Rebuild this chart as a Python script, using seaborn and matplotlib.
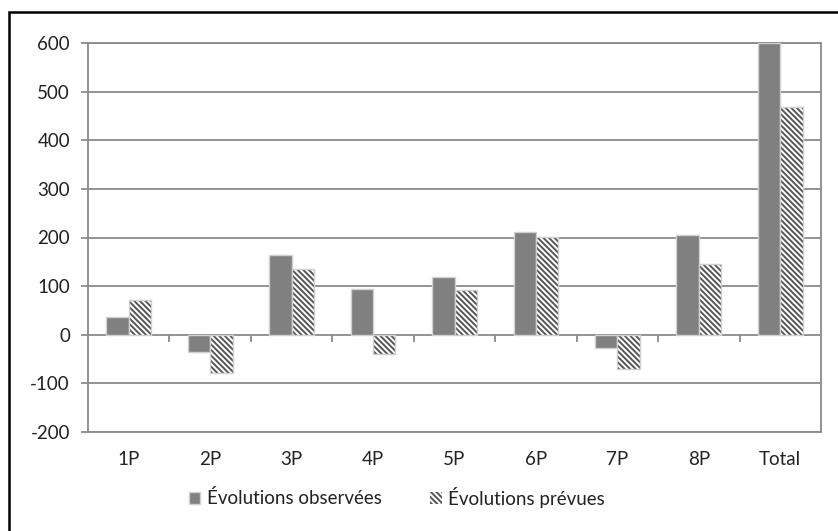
import pandas as pd
import seaborn as sns
import matplotlib.pyplot as plt
from matplotlib.patches import Rectangle

sns.set_theme(style="white")
plt.rcParams["font.family"] = ["Lato", "DejaVu Sans"]
plt.rcParams["hatch.linewidth"] = 1.4
plt.rcParams["axes.unicode_minus"] = False

## --- Data
categories = ["1P", "2P", "3P", "4P", "5P", "6P", "7P", "8P", "Total"]
observed = [37, -35, 164, 95, 119, 212, -28, 205, 600]
forecast = [72, -78, 136, -40, 92, 202, -71, 145, 468]
series_names = ["Évolutions observées", "Évolutions prévues"]
y_ticks = [-200, -100, 0, 100, 200, 300, 400, 500, 600]
## ---

df = pd.DataFrame({
    "cat": categories * 2,
    "value": observed + forecast,
    "series": [series_names[0]] * len(categories) + [series_names[1]] * len(categories),
})

GRID = "#8a8a8a"
DARK = "#808080"
TEXT = "#222222"

fig = plt.figure(figsize=(8.38, 5.31), dpi=100)
ax = fig.add_axes([88 / 838, 1 - 432 / 531, (821 - 88) / 838, (432 - 43) / 531])

sns.barplot(data=df, x="cat", y="value", hue="series", order=categories,
            hue_order=series_names, palette=[DARK, "white"], width=0.55, gap=0,
            edgecolor="#d0d0d0", linewidth=1, legend=False, ax=ax, zorder=3)

# hatched series: dark hatch, light outline on top
for p in ax.containers[1]:
    p.set_edgecolor("#555555")
    p.set_linewidth(0)
    p.set_hatch("\\" * 6)
    ax.add_patch(Rectangle(p.get_xy(), p.get_width(), p.get_height(), fill=False,
                           ec="#cfcfcf", lw=1, zorder=4))

ax.set_ylim(-200, 600)
ax.set_xlim(-0.5, len(categories) - 0.5)
ax.set_yticks(y_ticks)
ax.set_xlabel("")
ax.set_ylabel("")
ax.yaxis.grid(True, color=GRID, lw=1.3)
ax.set_axisbelow(True)
for s in ax.spines.values():
    s.set_color(GRID)
    s.set_linewidth(1.3)

ax.tick_params(axis="y", length=5, width=1.3, color=GRID, pad=8, labelsize=13.5,
               labelcolor=TEXT, left=True)
ax.tick_params(axis="x", length=0, pad=14, labelsize=13.5, labelcolor=TEXT)

# tick marks between categories on the zero line
sec = ax.secondary_xaxis(0.25)
sec.set_xticks([i + 0.5 for i in range(len(categories) - 1)])
sec.set_xticklabels([])
sec.tick_params(axis="x", direction="out", length=5, width=1.3, color=GRID)
sec.spines["bottom"].set_visible(False)

handles = [ax.containers[0][0], ax.containers[1][0]]
fig.legend(handles, series_names, loc="center", bbox_to_anchor=(397 / 838, 1 - 497 / 531),
           ncol=2, frameon=False, fontsize=13.5, handlelength=0.6, handleheight=0.6,
           handletextpad=0.35, columnspacing=2.6, labelcolor=TEXT)

# outer frame of the figure box
fig.patches.append(Rectangle((9 / 838, -0.1), 1.2, 1 - 12 / 531 + 0.1, fill=False,
                             ec="black", lw=1.8, transform=fig.transFigure, figure=fig))

fig.savefig("out.png", dpi=100, facecolor="white")
